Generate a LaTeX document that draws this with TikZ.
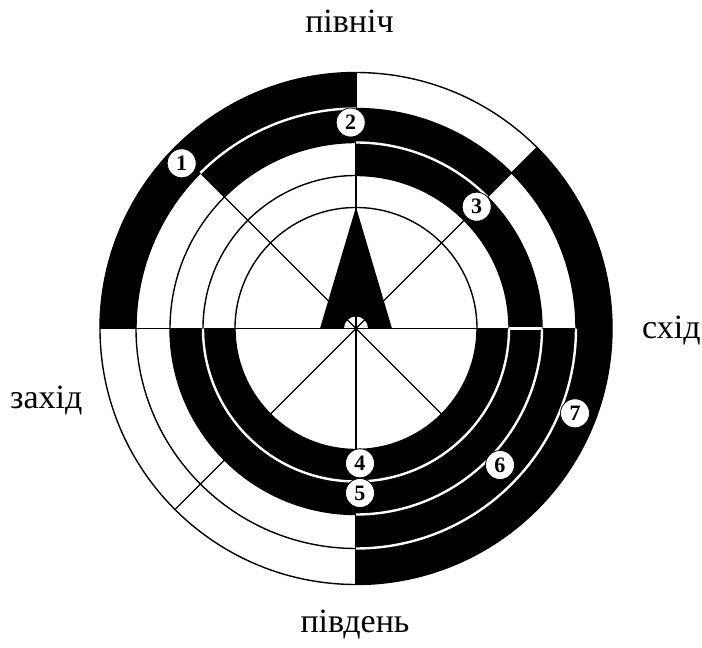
\documentclass[tikz,border=0pt]{standalone}
\usepackage{fontspec}
\setmainfont{Liberation Serif}
\newcommand{\blksec}[4]{\fill[black] (#1:#3pt) arc[start angle=#1,end angle=#2,radius=#3pt] -- (#2:#4pt) arc[start angle=#2,end angle=#1,radius=#4pt] -- cycle;}
\newcommand{\whtarc}[3]{\draw[wl] (#1:#3pt) arc[start angle=#1,end angle=#2,radius=#3pt];}
\begin{document}
\begin{tikzpicture}[x=1pt,y=1pt,
  ln/.style={black,line width=1.4pt},
  wl/.style={white,line width=2.4pt},
  num/.style={circle,draw=black,line width=0.8pt,fill=white,inner sep=0pt,minimum size=29pt,font=\fontsize{22}{22}\selectfont\bfseries},
  dir/.style={font=\fontsize{34}{34}\selectfont,inner sep=0pt}]
\useasboundingbox (-356,-319.5) rectangle (346,328.5);
\fill[white] (-356,-319.5) rectangle (346,328.5);
% radii
\def\rA{121}\def\rB{153}\def\rC{186}\def\rD{220}\def\rE{256}
% black sectors
\blksec{-180}{0}{\rA}{\rB}
\blksec{-180}{90}{\rB}{\rC}
\blksec{45}{135}{\rC}{\rD}
\blksec{-90}{0}{\rC}{\rD}
\blksec{-90}{45}{\rD}{\rE}
\blksec{90}{180}{\rD}{\rE}
% arrow
\fill[black] (0,121.5) -- (-36,0) -- (36,0) -- cycle;
\fill[white] (0,0) circle[radius=12pt];
% circles
\foreach \r in {\rA,\rB,\rC,\rD,\rE} \draw[ln] (0,0) circle[radius=\r pt];
% radial lines
\foreach \a in {0,45,...,315} \draw[ln] (0,0) -- (\a:\rE pt);
% white separating lines
\whtarc{-180}{0}{\rB}
\whtarc{45}{90}{\rC}
\whtarc{-90}{0}{\rC}
\whtarc{90}{135}{\rD}
\whtarc{-90}{0}{\rD}
\draw[wl] (0:\rB pt) -- (0:\rC pt);
% numbered marks
\node[num] (m1) at (-174.3,165.2) {1};
\node[num] (m2) at (-5.3,206) {2};
\node[num] (m3) at (120.7,121.8) {3};
\node[num] (m4) at (4,-134.8) {4};
\node[num] (m5) at (4,-164.5) {5};
\node[num] (m6) at (144,-136.5) {6};
\node[num] (m7) at (219,-84.8) {7};
% directions
\node[dir,anchor=base] (north) at (-6.5,295.5) {північ};
\node[dir,anchor=base west] (east) at (286,-9.5) {схід};
\node[dir,anchor=base west] (west) at (-346,-79.5) {захід};
\node[dir,anchor=base] (south) at (-1,-303.5) {південь};
\end{tikzpicture}
\end{document}
